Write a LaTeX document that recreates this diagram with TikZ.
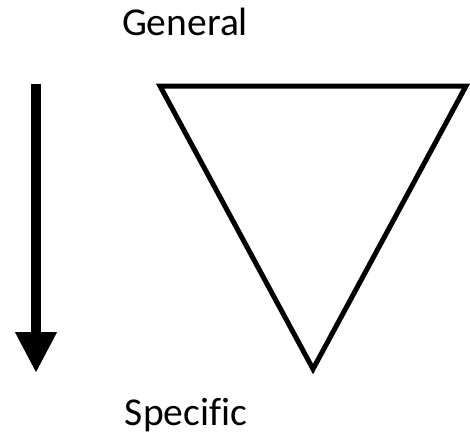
\documentclass[tikz,border=0pt]{standalone}
\usepackage{fontspec}
\setmainfont[Ligatures=NoCommon]{Carlito}
\usepackage{tikz}
\usetikzlibrary{arrows.meta,positioning}
\tikzset{
  label text/.style={font=\fontsize{39.5}{46}\selectfont,text=black,anchor=base,inner sep=0pt},
  funnel line/.style={draw=black,line width=5pt,line join=miter},
  level arrow/.style={draw=black,line width=10pt,-{Triangle[length=41pt,width=39pt]}}
}

\begin{document}
\begin{tikzpicture}[x=1pt,y=-1pt]
  \useasboundingbox (0,0) rectangle (470,436);
  % labels
  \node[label text] (general) at (185,36) {General};
  \node[label text] (specific) at (186,425) {Specific};
  % arrow from general to specific
  \coordinate (arrowtop) at (36,84);
  \coordinate (arrowtip) at (36,373);
  \draw[level arrow] (arrowtop) -- (arrowtip);
  % the funnel
  \coordinate (topleft) at (160,86);
  \coordinate (topright) at (466,86);
  \coordinate (bottom) at (313,369);
  \draw[funnel line] (topleft) -- (topright) -- (bottom) -- cycle;
\end{tikzpicture}
\end{document}
